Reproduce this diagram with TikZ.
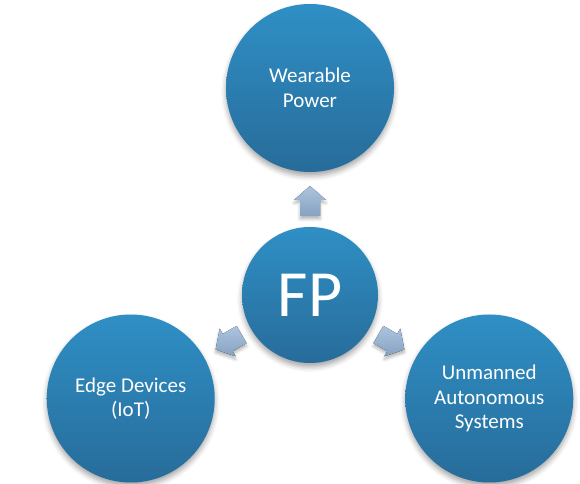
\documentclass[tikz,border=0pt]{standalone}
\usepackage{fontspec}
\setmainfont{Carlito}
\usetikzlibrary{calc,shadows.blur}

\definecolor{ballTop}{RGB}{47,143,197}
\definecolor{ballBot}{RGB}{39,108,154}
\definecolor{arrLight}{RGB}{172,196,222}
\definecolor{arrDark}{RGB}{134,162,194}

\tikzset{
  ball/.style={circle, inner sep=0pt, minimum size=168bp,
    top color=ballTop, bottom color=ballBot, text=white, align=center,
    font=\fontsize{21bp}{24.5bp}\selectfont,
    blur shadow={shadow xshift=0bp, shadow yshift=-4bp,
      shadow blur radius=5bp, shadow opacity=35}},
  hub/.style={ball, minimum size=136bp, font=\fontsize{66bp}{70bp}\selectfont},
  blockarrow/.pic={
    \fill[top color=arrLight, bottom color=arrDark,
      blur shadow={shadow xshift=0bp, shadow yshift=-3bp,
        shadow blur radius=3bp, shadow opacity=30}]
      (-15,-10) -- (1,-10) -- (1,-16) -- (15,0) -- (1,16) -- (1,10)
      -- (-15,10) -- cycle;
  }
}

\begin{document}
\begin{tikzpicture}[x=1bp, y=1bp]
  \useasboundingbox (0,0) rectangle (580,484);

  % centre and the three satellites, 120 degrees apart
  \node[hub] (fp) at (310,189) {FP};
  \node[ball] (wear) at ($(fp)+(90:207)$) {Wearable\\Power};
  \node[ball] (edge) at ($(fp)+(210:207)$) {Edge Devices\\(IoT)};
  \node[ball] (uas)  at ($(fp)+(-30:207)$) {Unmanned\\Autonomous\\Systems};

  % block arrows pointing out from the hub
  \pic[rotate=90]  at ($(fp)!94bp!(wear)$) {blockarrow};
  \pic[rotate=210] at ($(fp)!94bp!(edge)$) {blockarrow};
  \pic[rotate=-30] at ($(fp)!94bp!(uas)$)  {blockarrow};
\end{tikzpicture}
\end{document}
